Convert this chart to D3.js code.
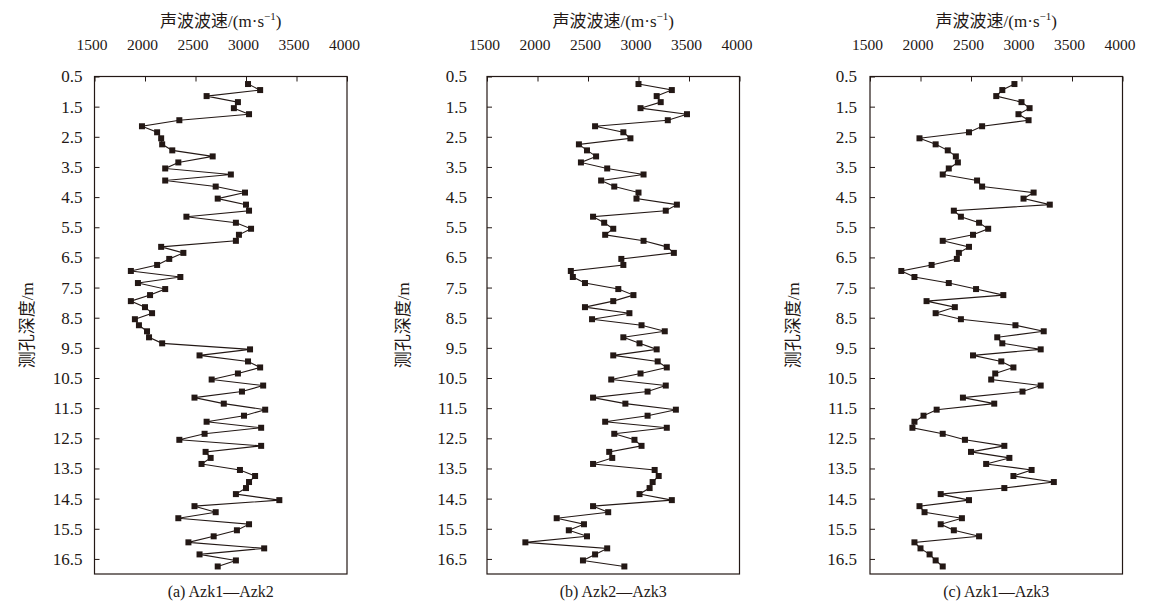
<!DOCTYPE html>
<html>
<head>
<meta charset="utf-8">
<script src="https://cdn.jsdelivr.net/npm/d3@7"></script>
<style>
  body { margin: 0; background: #fff; }
  text { font-family: "Liberation Serif", "Noto Sans CJK SC", serif; fill: #231815; }
</style>
</head>
<body>
<div id="chart"></div>
<script>
// depth of each measuring point (m)
var depths = [0.75,0.95,1.15,1.35,1.55,1.75,1.95,2.15,2.35,2.55,2.75,2.95,3.15,3.35,3.55,3.75,3.95,4.15,4.35,4.55,
  4.75,4.95,5.15,5.35,5.55,5.75,5.95,6.15,6.35,6.55,6.75,6.95,7.15,7.35,7.55,7.75,7.95,8.15,8.35,8.55,
  8.75,8.95,9.15,9.35,9.55,9.75,9.95,10.15,10.35,10.55,10.75,10.95,11.15,11.35,11.55,11.75,11.95,12.15,12.35,12.55,
  12.75,12.95,13.15,13.35,13.55,13.75,13.95,14.15,14.35,14.55,14.75,14.95,15.15,15.35,15.55,15.75,15.95,16.15,16.35,16.55,16.75];

// wave velocity (m/s) for each borehole pair
var velA = [3020,3140,2610,2920,2880,3030,2340,1970,2120,2160,2170,2270,2670,2330,2200,2850,2200,2700,2990,2720,
  3000,3030,2410,2900,3050,2930,2900,2160,2380,2240,2120,1860,2350,1930,2200,2050,1860,2000,2070,1900,
  1940,2020,2040,2170,3040,2540,3020,3140,2920,2660,3170,2960,2490,2780,3190,2980,2610,3150,2590,2340,
  3150,2600,2650,2560,2940,3090,3030,3000,2900,3330,2490,2700,2330,3030,2910,2680,2430,3180,2540,2900,2720];
var velB = [3000,3330,3180,3220,3020,3480,3290,2570,2850,2920,2410,2490,2580,2430,2690,3050,2630,2760,3000,2980,
  3380,3270,2550,2660,2750,2670,3050,3280,3350,2830,2850,2330,2350,2470,2800,2950,2750,2470,2910,2540,
  3030,3260,2850,3010,3180,2750,3190,3280,3020,2730,3270,3090,2550,2870,3370,3090,2670,3280,2760,2960,
  3030,2710,2740,2550,3160,3200,3140,3110,3010,3330,2550,2700,2190,2460,2310,2490,1880,2690,2570,2450,2860];
var velC = [2930,2810,2750,3000,3080,2970,3070,2610,2480,1990,2150,2270,2350,2370,2280,2220,2560,2610,3120,3020,
  3280,2330,2400,2580,2670,2520,2220,2480,2380,2360,2110,1810,1940,2280,2550,2820,2060,2340,2150,2400,
  2940,3220,2760,2810,3190,2520,2800,2920,2740,2700,3190,3010,2420,2730,2160,2030,1940,1920,2220,2440,
  2830,2500,2880,2650,3100,2920,3320,2830,2200,2480,1990,2040,2410,2200,2330,2580,1940,2000,2090,2150,2220];

var xTicks = [1500, 2000, 2500, 3000, 3500, 4000];
var yTicks = [0.5,1.5,2.5,3.5,4.5,5.5,6.5,7.5,8.5,9.5,10.5,11.5,12.5,13.5,14.5,15.5,16.5];
var captions = ["(a) Azk1\u2014Azk2", "(b) Azk2\u2014Azk3", "(c) Azk1\u2014Azk3"];
var series = [velA, velB, velC];

var W = 1149, H = 604;
var ink = "#231815";
var panelLeft = [94.5, 487, 870];
var panelW = 252.5;
var plotTop = 76.5, plotBottom = 574;
var yLabelPad = [12, 20, 13];
var yTitleX = [27, 403, 793];

var svg = d3.select("#chart").append("svg")
  .attr("width", W)
  .attr("height", H);

var y = d3.scaleLinear()
  .domain([0.5, 17])
  .range([plotTop, plotBottom]);

series.forEach(function(vals, k) {
  var left = panelLeft[k];
  var x = d3.scaleLinear()
    .domain([1500, 4000])
    .range([left, left + panelW]);

  var g = svg.append("g");

  // frame
  g.append("rect")
    .attr("x", left).attr("y", plotTop)
    .attr("width", panelW).attr("height", plotBottom - plotTop)
    .attr("fill", "none").attr("stroke", ink).attr("stroke-width", 1.2);

  // top axis
  var ax = g.append("g")
    .attr("transform", "translate(0," + plotTop + ")")
    .call(d3.axisTop(x).tickValues(xTicks).tickFormat(d3.format("d"))
      .tickSizeInner(-5).tickSizeOuter(0).tickPadding(27));
  ax.select(".domain").remove();
  ax.selectAll("line").attr("stroke", ink);
  ax.selectAll("text").attr("font-size", 15.5).attr("font-family", null).attr("fill", ink)
    .attr("dx", -3);

  // left axis
  var ay = g.append("g")
    .attr("transform", "translate(" + left + ",0)")
    .call(d3.axisLeft(y).tickValues(yTicks).tickFormat(d3.format(".1f"))
      .tickSizeInner(-5).tickSizeOuter(0).tickPadding(yLabelPad[k]));
  ay.select(".domain").remove();
  ay.selectAll("line").attr("stroke", ink);
  ay.selectAll("text").attr("font-size", 17).attr("font-family", null).attr("fill", ink);

  // axis titles
  g.append("text")
    .attr("x", left + panelW / 2).attr("y", 27)
    .attr("text-anchor", "middle").attr("font-size", 17)
    .html("声波波速/(m·s<tspan dy='-7' font-size='11'>\u22121</tspan><tspan dy='7'>)</tspan>");

  g.append("text")
    .attr("transform", "translate(" + yTitleX[k] + "," + (plotTop + plotBottom) / 2 + ") rotate(-90)")
    .attr("text-anchor", "middle").attr("dominant-baseline", "central")
    .attr("font-size", 17)
    .text("测孔深度/m");

  g.append("text")
    .attr("x", left + panelW / 2).attr("y", 597)
    .attr("text-anchor", "middle").attr("font-size", 16)
    .text(captions[k]);

  var pts = vals.map(function(v, i) { return {v: v, d: depths[i]}; });

  g.append("path")
    .datum(pts)
    .attr("fill", "none")
    .attr("stroke", ink)
    .attr("stroke-width", 1.1)
    .attr("d", d3.line()
      .x(function(d) { return x(d.v); })
      .y(function(d) { return y(d.d); }));

  g.selectAll(".pt")
    .data(pts)
    .enter()
    .append("rect")
    .attr("class", "pt")
    .attr("x", function(d) { return x(d.v) - 3; })
    .attr("y", function(d) { return y(d.d) - 3; })
    .attr("width", 6)
    .attr("height", 6)
    .attr("fill", ink);
});
</script>
</body>
</html>
